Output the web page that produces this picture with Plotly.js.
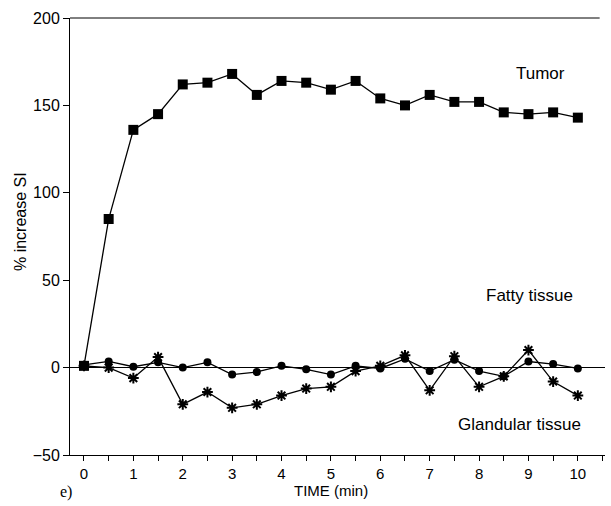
<!DOCTYPE html>
<html>
<head>
<meta charset="utf-8">
<script src="https://cdn.plot.ly/plotly-3.0.1.min.js"></script>
<style>html,body{margin:0;padding:0;background:#fff;}#chart{width:611px;height:506px;}</style>
</head>
<body>
<div id="chart"></div>
<script>
const time = [0,0.5,1,1.5,2,2.5,3,3.5,4,4.5,5,5.5,6,6.5,7,7.5,8,8.5,9,9.5,10];
const tumor = [1,85,136,145,162,163,168,156,164,163,159,164,154,150,156,152,152,146,145,146,143];
const fatty = [1.5,3.5,0.5,3,0,3,-4,-2.5,1,-1,-4,1,-0.5,5,-2,4.5,-2,-5,3.5,2,-0.5];
const glandular = [1,0,-6,6,-21,-14,-23,-21,-16,-12,-11,-2,1,7,-13,6.5,-11,-5,10,-8,-16];
const yTicks = [-50,0,50,100,150,200];
const xTicks = [0,1,2,3,4,5,6,7,8,9,10];
const seriesLabels = ['Tumor','Fatty tissue','Glandular tissue'];
const xTitle = 'TIME (min)';
const yTitle = '% increase SI';

const font = "Liberation Sans, Arial, Helvetica, sans-serif";
const lineStyle = {color:'#000', width:1.3};

const traces = [
  {x: time, y: glandular, mode:'lines+markers', line: lineStyle,
   marker:{symbol:'asterisk-open', size:9, color:'#000', line:{color:'#000', width:2}}},
  {x: time, y: fatty, mode:'lines+markers', line: lineStyle,
   marker:{symbol:'circle', size:8, color:'#000'}},
  {x: time, y: tumor, mode:'lines+markers', line: lineStyle,
   marker:{symbol:'square', size:10, color:'#000'}}
];

// pixel -> paper helpers (plot area: left 70, width 535, top 18, height 437)
const px = v => (v - 70) / 535;
const py = v => (455 - v) / 437;

const layout = {
  width:611, height:506,
  margin:{l:70, r:6, t:18, b:51},
  paper_bgcolor:'#fff', plot_bgcolor:'#fff',
  showlegend:false,
  font:{family:font, color:'#000', size:16},
  xaxis:{range:[-0.283,10.55], tickvals:xTicks, ticks:'outside', ticklen:5, tickcolor:'#000',
    minor:{dtick:0.5, tick0:0, ticks:'outside', ticklen:5, tickcolor:'#000', showgrid:false},
    showline:true, linecolor:'#000', linewidth:1, showgrid:false, zeroline:false,
    tickfont:{size:15, family:font}},
  yaxis:{range:[-50,200], tickvals:yTicks, ticks:'outside', ticklen:6, tickcolor:'#000',
    showline:true, linecolor:'#000', linewidth:1, showgrid:false,
    zeroline:true, zerolinecolor:'#000', zerolinewidth:1,
    tickfont:{size:16, family:font}},
  shapes:[{type:'line', xref:'paper', yref:'paper', x0:0, x1:0.99, y0:1, y1:1, line:{color:'#000', width:1}}],
  annotations:[
    {x:9.25, y:168, xref:'x', yref:'y', text:seriesLabels[0], showarrow:false, font:{size:17, family:font}},
    {x:9.03, y:41, xref:'x', yref:'y', text:seriesLabels[1], showarrow:false, font:{size:17, family:font}},
    {x:8.81, y:-32.5, xref:'x', yref:'y', text:seriesLabels[2], showarrow:false, font:{size:17, family:font}},
    {x:px(331), y:py(490), xref:'paper', yref:'paper', xanchor:'center', yanchor:'middle',
     text:xTitle, showarrow:false, font:{size:15, family:font}},
    {x:px(20), y:py(222), xref:'paper', yref:'paper', xanchor:'center', yanchor:'middle', textangle:-90,
     text:yTitle, showarrow:false, font:{size:16, family:font}},
    {x:px(66), y:py(492), xref:'paper', yref:'paper', xanchor:'center', yanchor:'middle',
     text:'e)', showarrow:false, font:{size:16, family:'Liberation Serif, Times New Roman, serif'}}
  ]
};

Plotly.newPlot('chart', traces, layout, {displayModeBar:false, staticPlot:true});
</script>
</body>
</html>
